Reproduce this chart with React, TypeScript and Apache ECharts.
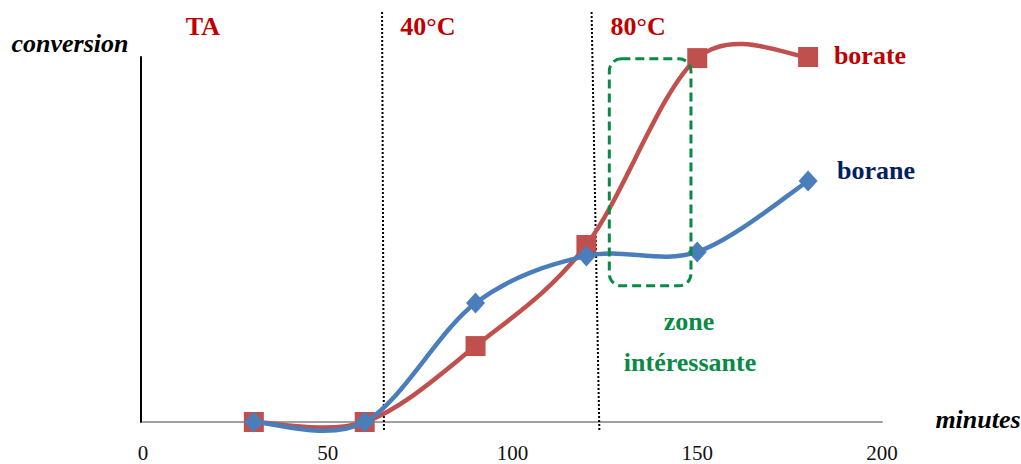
import React, { useEffect, useRef } from "react";
import * as echarts from "echarts";

const minutes = [30, 60, 90, 120, 150, 180];
const borate = [0, 0, 20.8, 48.5, 99.7, 100];
const borane = [0, 0, 32.6, 45.5, 46.6, 66];
const xTicks = [0, 50, 100, 150, 200];
const phaseLabels = ["TA", "40°C", "80°C"];
const phaseLabelX = [16.2, 77.1, 134];
const separators = [
  [64.7, 65.2],
  [121.4, 123.5],
];
const zoneBox = { x0: 126.2, x1: 148.3, y0: 37.3, y1: 99.5 };

const RED = "#c0504d";
const BLUE = "#4a7ebb";
const SERIF = "Liberation Serif";

function smoothRender(values: number[], color: string) {
  return (params: any, api: any) => {
    const pts = minutes.map((m, i) => api.coord([m, values[i]]));
    const n = pts.length;
    const children: any[] = [];
    for (let i = 0; i < n - 1; i++) {
      const p0 = pts[Math.max(i - 1, 0)];
      const p1 = pts[i];
      const p2 = pts[i + 1];
      const p3 = pts[Math.min(i + 2, n - 1)];
      children.push({
        type: "bezierCurve",
        shape: {
          x1: p1[0],
          y1: p1[1],
          x2: p2[0],
          y2: p2[1],
          cpx1: p1[0] + (p2[0] - p0[0]) / 6,
          cpy1: p1[1] + (p2[1] - p0[1]) / 6,
          cpx2: p2[0] - (p3[0] - p1[0]) / 6,
          cpy2: p2[1] - (p3[1] - p1[1]) / 6,
        },
        style: { stroke: color, lineWidth: 4.5, fill: "none", lineCap: "round" },
        silent: true,
      });
    }
    return { type: "group", children };
  };
}

export default function App() {
  const ref = useRef<HTMLDivElement>(null);
  useEffect(() => {
    document.body.style.margin = "0";
    const chart = echarts.init(ref.current!, null, { renderer: "svg" });
    chart.setOption({
      animation: false,
      grid: { left: 143, right: 139, top: 57, bottom: 42 },
      xAxis: {
        type: "value",
        min: 0,
        max: 200,
        interval: 50,
        axisLine: { show: true, lineStyle: { color: "#a0a0a0", width: 2 } },
        axisTick: { show: false },
        splitLine: { show: false },
        axisLabel: {
          margin: 20,
          fontFamily: SERIF,
          fontSize: 21,
          color: "#111",
          formatter: (v: number) => (xTicks.includes(v) ? String(v) : ""),
        },
      },
      yAxis: {
        type: "value",
        min: 0,
        max: 100,
        axisLine: { show: true, onZero: false, lineStyle: { color: "#000", width: 2 } },
        offset: 2,
        axisTick: { show: false },
        axisLabel: { show: false },
        splitLine: { show: false },
      },
      series: [
        {
          type: "custom",
          data: [[0, 0]],
          renderItem: smoothRender(borate, RED),
          silent: true,
          z: 2,
        },
        {
          type: "scatter",
          data: minutes.map((m, i) => [m, borate[i]]),
          symbol: "rect",
          symbolSize: 20,
          itemStyle: { color: RED, opacity: 1 },
          silent: true,
          z: 3,
        },
        {
          type: "custom",
          data: [[0, 0]],
          renderItem: smoothRender(borane, BLUE),
          silent: true,
          z: 4,
        },
        {
          type: "scatter",
          data: minutes.map((m, i) => [m, borane[i]]),
          symbol: "diamond",
          symbolSize: [19, 21],
          itemStyle: { color: BLUE, opacity: 1 },
          silent: true,
          z: 5,
        },
      ],
    });

    const px = (x: number, y: number) => chart.convertToPixel({ gridIndex: 0 }, [x, y]) as number[];
    const graphics: any[] = [];
    separators.forEach(([xt, xb]) => {
      const a = px(xt, 112.3);
      const b = px(xb, -2.2);
      graphics.push({
        type: "line",
        shape: { x1: a[0], y1: a[1], x2: b[0], y2: b[1] },
        style: { stroke: "#000", lineWidth: 2, lineDash: [2, 2] },
        silent: true,
        z: 1,
      });
    });
    const tl = px(zoneBox.x0, zoneBox.y1);
    const br = px(zoneBox.x1, zoneBox.y0);
    graphics.push({
      type: "rect",
      shape: { x: tl[0], y: tl[1], width: br[0] - tl[0], height: br[1] - tl[1], r: 12 },
      style: { fill: "none", stroke: "#0a8a45", lineWidth: 3, lineDash: [9, 5] },
      silent: true,
      z: 10,
    });
    const mkText = (t: string, x: number, y: number, c: string, it: boolean) => ({
      type: "text",
      x,
      y,
      style: {
        text: t,
        fill: c,
        fontFamily: SERIF,
        fontWeight: "bold",
        fontStyle: it ? "italic" : "normal",
        fontSize: 26,
        align: "center",
        verticalAlign: "middle",
      },
      silent: true,
    });
    phaseLabels.forEach((t, i) => {
      const p = px(phaseLabelX[i], 0);
      graphics.push(mkText(t, p[0], 26, "#c00000", false));
    });
    const texts = [
      { t: "conversion", x: 70, y: 43, c: "#000", it: true },
      { t: "minutes", x: 978, y: 419, c: "#000", it: true },
      { t: "borate", x: 870, y: 55, c: "#c00000", it: false },
      { t: "borane", x: 876, y: 170, c: "#002060", it: false },
      { t: "zone", x: 689, y: 321, c: "#0a8a45", it: false },
      { t: "intéressante", x: 690, y: 362, c: "#0a8a45", it: false },
    ];
    texts.forEach((d) => graphics.push(mkText(d.t, d.x, d.y, d.c, d.it)));
    chart.setOption({ graphic: graphics });
    return () => chart.dispose();
  }, []);
  return <div ref={ref} style={{ width: 1021, height: 464 }} />;
}
